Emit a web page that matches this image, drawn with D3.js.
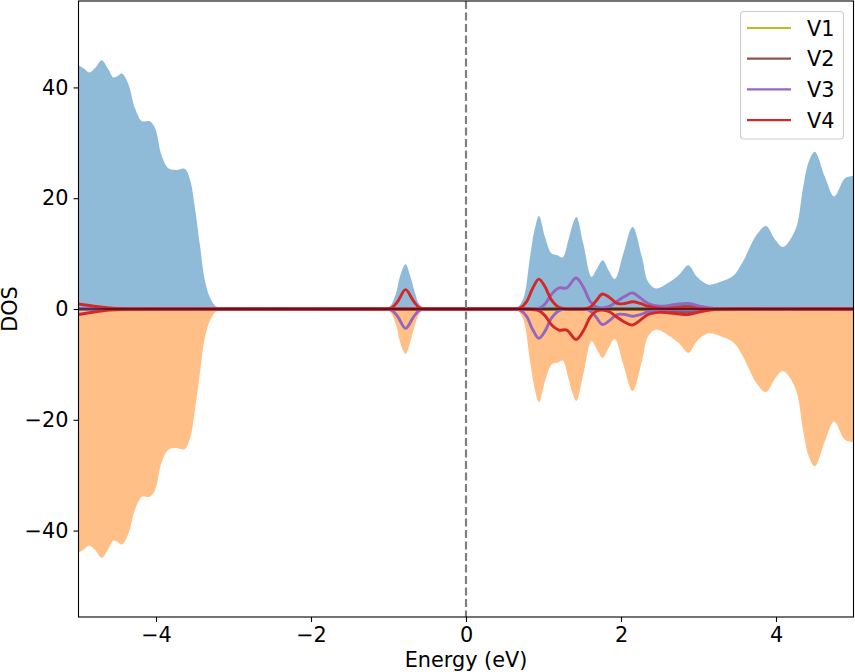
<!DOCTYPE html>
<html lang="en">

<head>
    <meta charset="UTF-8">
    <title>DOS</title>
    <script src="https://d3js.org/d3.v7.min.js"></script>
    <style>
        html, body {
            margin: 0;
            padding: 0;
            background: #fff;
        }

        svg {
            display: block;
        }

        text {
            font-family: "DejaVu Sans", sans-serif;
            fill: #000;
        }
    </style>
</head>

<body>
    <svg width="855" height="672"></svg>
    <script>
        // total DOS (spin down is the mirror of spin up)
        const totalE = [-5, -4.93, -4.86, -4.78, -4.7, -4.62, -4.55, -4.5, -4.44, -4.36, -4.27, -4.18, -4.08, -4.01, -3.93, -3.84, -3.74, -3.63, -3.56, -3.5, -3.43, -3.37, -3.3, -3.22, -3.1, -3.0,
            -1.2, -1.05, -0.98, -0.9, -0.85, -0.78, -0.72, -0.66, -0.6, -0.52, -0.4,
            0.5, 0.62, 0.654, 0.74, 0.826, 0.89, 0.942, 1.02, 1.105, 1.18, 1.247, 1.32, 1.37, 1.424, 1.514, 1.62, 1.69, 1.764, 1.84, 1.92, 2.03, 2.15, 2.27, 2.35, 2.45, 2.63, 2.75, 2.87, 2.98, 3.13, 3.3, 3.45, 3.56, 3.75, 3.87, 3.99, 4.09, 4.25, 4.35, 4.42, 4.5, 4.63, 4.75, 4.89, 5];
        const totalDos = [44, 43.4, 42.7, 43.6, 44.9, 43.4, 41.8, 42, 42.5, 40.7, 36.2, 33.9, 33.9, 32.6, 27.8, 25.4, 25.1, 25.3, 23.3, 18.5, 11.2, 5.2, 2, 0.4, 0, 0,
            0, 0, 0.5, 3, 6, 8.1, 6, 3, 0.8, 0, 0,
            0, 0, 0.1, 1.9, 9.4, 14.6, 16.8, 13, 10, 9.7, 9.3, 12.4, 15, 16.6, 11.8, 5.8, 7.3, 8.8, 7, 5.4, 10, 14.8, 9.4, 4.9, 3.7, 4.9, 6.2, 7.9, 5.8, 4.4, 5, 6, 8.2, 13.4, 15, 12.5, 11.2, 14.3, 22, 26.5, 28.4, 23.9, 20.3, 23.6, 24];

        // projected DOS on one shared energy list
        const pdosE = [-5, -4.8, -4.6, -4.4, -4.2, -1.2, -1.05, -0.96, -0.88, -0.78, -0.68, -0.6, -0.5, -0.4, 0.5, 0.6, 0.7, 0.78, 0.86, 0.94, 1.02, 1.1, 1.2, 1.3, 1.42, 1.52, 1.6, 1.68, 1.76, 1.85, 1.95, 2.05, 2.15, 2.25, 2.35, 2.5, 2.7, 2.87, 3.05, 3.2, 3.4, 5];
        const v1Up = [0, 0, 0, 0, 0, 0, 0, 0, 0, 0, 0, 0, 0, 0, 0, 0, 0, 0, 0, 0, 0, 0, 0, 0, 0, 0, 0, 0, 0, 0, 0, 0, 0, 0, 0, 0.1, 0.4, 0.6, 0.25, 0.05, 0, 0];
        const v1Down = [0, 0, 0, 0, 0, 0, 0, 0, 0, 0, 0, 0, 0, 0, 0, 0, 0, 0, 0, 0, 0, 0, 0, 0, 0, 0, 0, 0, 0, 0, 0, 0, 0, 0, 0, -0.1, -0.4, -0.6, -0.25, -0.05, 0, 0];
        const v2Up = [0, 0, 0, 0, 0, 0, 0, 0, 0, 0, 0, 0, 0, 0, 0, 0, 0, 0, 0, 0, 0, 0, 0, 0, 0, 0, 0, 0, 0, 0, 0, 0, 0, 0, 0, 0.1, 0.35, 0.5, 0.2, 0.05, 0, 0];
        const v2Down = [0, 0, 0, 0, 0, 0, 0, 0, 0, 0, 0, 0, 0, 0, 0, 0, 0, 0, 0, 0, 0, 0, 0, 0, 0, -0, 0, 0, 0, 0, 0, 0, 0, 0, 0, -0.1, -0.35, -0.5, -0.2, -0.05, 0, 0];
        const v3Up = [0, 0, 0, 0, 0, 0, 0, 0, 0, 0, 0, 0, 0, 0, 0, 0, 0, 0, 0, 0.1, 0.9, 2.6, 3.8, 3.8, 5.6, 3.8, 1.4, 0.4, 0.2, 0.5, 1.4, 2.3, 2.9, 2, 1, 0.5, 0.8, 1, 0.4, 0.1, 0, 0];
        const v3Down = [0, 0, 0, 0, 0, 0, 0, -0.2, -1.4, -3.5, -1.5, -0.2, 0, 0, 0, 0, -0.2, -1.3, -3.7, -5.3, -4, -1.7, -0.3, 0, 0, 0, -0.3, -1.5, -2.8, -2.1, -1, -1, -1.3, -1, -0.5, -0.15, -0.1, -0.15, -0.05, 0, 0, 0];
        const v4Up = [0.9, 0.5, 0.2, 0.05, 0, 0, 0, 0.2, 1.4, 3.5, 1.5, 0.2, 0, 0, 0, 0, 0.2, 1.3, 3.7, 5.4, 4, 1.7, 0.3, 0, 0, 0, 0.3, 1.5, 2.7, 2.1, 1, 1, 1.3, 1, 0.5, 0.15, 0.1, 0.15, 0.05, 0, 0, 0];
        const v4Down = [-1, -0.55, -0.2, -0.05, 0, 0, 0, 0, 0, 0, 0, 0, 0, 0, 0, 0, 0, 0, -0.1, -0.3, -1.2, -2.8, -3.8, -3.8, -5.5, -3.8, -1.5, -0.4, -0.2, -0.5, -1.5, -2.4, -2.9, -2, -1, -0.6, -0.8, -1, -0.4, -0.1, 0, 0];

        const seriesNames = ['V1', 'V2', 'V3', 'V4'];
        const seriesColors = ['#bcbd22', '#8c564b', '#9467bd', '#d62728'];
        const seriesUp = [v1Up, v2Up, v3Up, v4Up];
        const seriesDown = [v1Down, v2Down, v3Down, v4Down];

        const xTicks = [-4, -2, 0, 2, 4];
        const yTicks = [-40, -20, 0, 20, 40];

        const svg = d3.select('svg');
        const plotLeft = 78.5, plotRight = 853.5, plotTop = 1, plotBottom = 617;
        const fontSize = '20.8px';

        const x = d3.scaleLinear().domain([-5, 5]).range([plotLeft, plotRight]);
        const y = d3.scaleLinear().domain([-55.6, 55.6]).range([plotBottom, plotTop]);

        svg.append('clipPath').attr('id', 'plot')
            .append('rect')
            .attr('x', plotLeft).attr('y', plotTop)
            .attr('width', plotRight - plotLeft).attr('height', plotBottom - plotTop);

        const plot = svg.append('g').attr('clip-path', 'url(#plot)');

        // filled areas
        const area = d3.area()
            .x((d, i) => x(totalE[i]))
            .y0(y(0))
            .y1(d => y(d))
            .curve(d3.curveCatmullRom.alpha(0.5));

        plot.append('path')
            .attr('d', area(totalDos))
            .attr('fill', '#1f77b4')
            .attr('fill-opacity', 0.5);

        plot.append('path')
            .attr('d', area(totalDos.map(d => -d)))
            .attr('fill', '#ff7f0e')
            .attr('fill-opacity', 0.5);

        // projected lines
        const line = d3.line()
            .x((d, i) => x(pdosE[i]))
            .y(d => y(d))
            .curve(d3.curveCatmullRom.alpha(0.5));

        seriesNames.forEach(function (name, k) {
            [seriesUp[k], seriesDown[k]].forEach(function (values) {
                plot.append('path')
                    .attr('d', line(values))
                    .attr('fill', 'none')
                    .attr('stroke', seriesColors[k])
                    .attr('stroke-width', 2.9);
            });
        });

        // zero lines
        plot.append('line')
            .attr('x1', plotLeft).attr('x2', plotRight)
            .attr('y1', y(0)).attr('y2', y(0))
            .attr('stroke', '#000')
            .attr('stroke-width', 1);

        plot.append('line')
            .attr('x1', x(0)).attr('x2', x(0))
            .attr('y1', plotTop).attr('y2', plotBottom)
            .attr('stroke', '#808080')
            .attr('stroke-width', 2.2)
            .attr('stroke-dasharray', '8,3.5');

        // axes
        const xAxis = d3.axisBottom(x).tickValues(xTicks).tickSize(5).tickPadding(5).tickSizeOuter(0);
        const yAxis = d3.axisLeft(y).tickValues(yTicks).tickSize(5).tickPadding(5).tickSizeOuter(0);

        const gx = svg.append('g').attr('transform', `translate(0,${plotBottom})`).call(xAxis);
        const gy = svg.append('g').attr('transform', `translate(${plotLeft},0)`).call(yAxis);

        [gx, gy].forEach(function (g) {
            g.selectAll('text').style('font-size', fontSize).style('font-family', '"DejaVu Sans", sans-serif');
            g.selectAll('.tick line').attr('stroke', '#000').attr('stroke-width', 1.1);
            g.select('.domain').remove();
        });

        // frame
        svg.append('rect')
            .attr('x', plotLeft).attr('y', plotTop)
            .attr('width', plotRight - plotLeft).attr('height', plotBottom - plotTop)
            .attr('fill', 'none')
            .attr('stroke', '#000')
            .attr('stroke-width', 1.1);

        svg.append('text')
            .attr('x', (plotLeft + plotRight) / 2)
            .attr('y', 667)
            .attr('text-anchor', 'middle')
            .style('font-size', fontSize)
            .text('Energy (eV)');

        svg.append('text')
            .attr('transform', `translate(17,${(plotTop + plotBottom) / 2}) rotate(-90)`)
            .attr('text-anchor', 'middle')
            .style('font-size', fontSize)
            .text('DOS');

        // legend
        const legend = svg.append('g');

        legend.append('rect')
            .attr('x', 740.5).attr('y', 11.5)
            .attr('width', 103).attr('height', 127.5)
            .attr('rx', 3.5)
            .attr('fill', '#fff')
            .attr('fill-opacity', 0.8)
            .attr('stroke', '#ccc')
            .attr('stroke-width', 1.1);

        seriesNames.forEach(function (name, k) {
            const ly = 28 + k * 30.7;
            legend.append('line')
                .attr('x1', 747).attr('x2', 791)
                .attr('y1', ly).attr('y2', ly)
                .attr('stroke', seriesColors[k])
                .attr('stroke-width', 2.2);
            legend.append('text')
                .attr('x', 807)
                .attr('y', ly + 7.5)
                .style('font-size', fontSize)
                .text(name);
        });
    </script>
</body>

</html>
